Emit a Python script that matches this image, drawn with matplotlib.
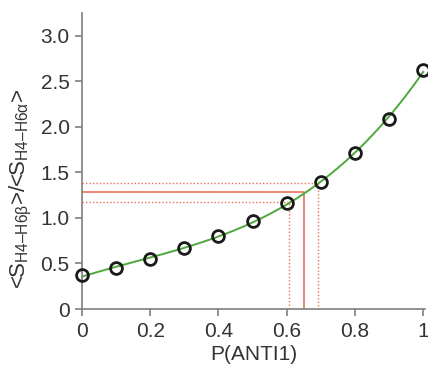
import numpy as np
import matplotlib
matplotlib.use('Agg')
import matplotlib.pyplot as plt

plt.rcParams['font.family'] = ['Liberation Sans', 'DejaVu Sans']
plt.rcParams['mathtext.fontset'] = 'custom'
plt.rcParams['mathtext.rm'] = 'Liberation Sans'

# data
p_anti = [0.0, 0.1, 0.2, 0.3, 0.4, 0.5, 0.6, 0.7, 0.8, 0.9, 1.0]
ratio = [0.37, 0.45, 0.55, 0.67, 0.80, 0.97, 1.16, 1.39, 1.71, 2.09, 2.62]

# experimental ratio with its error band and the matching P(ANTI1)
exp_ratio = 1.28
exp_lo, exp_hi = 1.18, 1.38
p_mid, p_lo, p_hi = 0.652, 0.607, 0.692

xticks = [0, 0.2, 0.4, 0.6, 0.8, 1]
xtick_labels = ['0', '0.2', '0.4', '0.6', '0.8', '1']
yticks = [0, 0.5, 1.0, 1.5, 2.0, 2.5, 3.0]
ytick_labels = ['0', '0.5', '1.0', '1.5', '2.0', '2.5', '3.0']

red = '#e8715c'
green = '#4ea83c'
gray = '#7f7f7f'

fig = plt.figure(figsize=(4.28, 3.67), dpi=100)
ax = fig.add_axes([0.1916, 0.158, 0.801, 0.8066])

# smooth fit through the points
coef = np.polyfit(p_anti, ratio, 3)
xs = np.linspace(0, 1, 200)
ax.plot(xs, np.polyval(coef, xs), color=green, lw=1.4, zorder=2)

# experimental value lines
ax.plot([0, p_mid, p_mid], [exp_ratio, exp_ratio, 0], color=red, lw=1.2, zorder=1)
ax.plot([0, p_hi, p_hi], [exp_hi, exp_hi, 0], color=red, lw=1.0, ls=(0, (1, 1.5)), zorder=1)
ax.plot([0, p_lo, p_lo], [exp_lo, exp_lo, 0], color=red, lw=1.0, ls=(0, (1, 1.5)), zorder=1)

ax.plot(p_anti, ratio, 'o', mfc='none', mec='#1a1a1a', mew=2.0, ms=8.5, zorder=3,
        clip_on=False)

ax.set_xlim(0, 1.005)
ax.set_ylim(0, 3.25)
ax.set_xticks(xticks)
ax.set_xticklabels(xtick_labels)
ax.set_yticks(yticks)
ax.set_yticklabels(ytick_labels)

for s in ['top', 'right']:
    ax.spines[s].set_visible(False)
for s in ['left', 'bottom']:
    ax.spines[s].set_color(gray)
    ax.spines[s].set_linewidth(1.2)
ax.tick_params(direction='out', length=5, width=1.2, color=gray,
               labelsize=15, labelcolor='#333333', pad=4)

ax.set_xlabel('P(ANTI1)', fontsize=15, color='#333333', labelpad=3)
ylab = '<S$_\\mathregular{H4\u2013H6\u03b2}$>/<S$_\\mathregular{H4\u2013H6\u03b1}$>'
ax.set_ylabel(ylab, fontsize=16, color='#333333')
ax.yaxis.set_label_coords(-0.14, 0.405)

fig.savefig('out.png', dpi=100)
